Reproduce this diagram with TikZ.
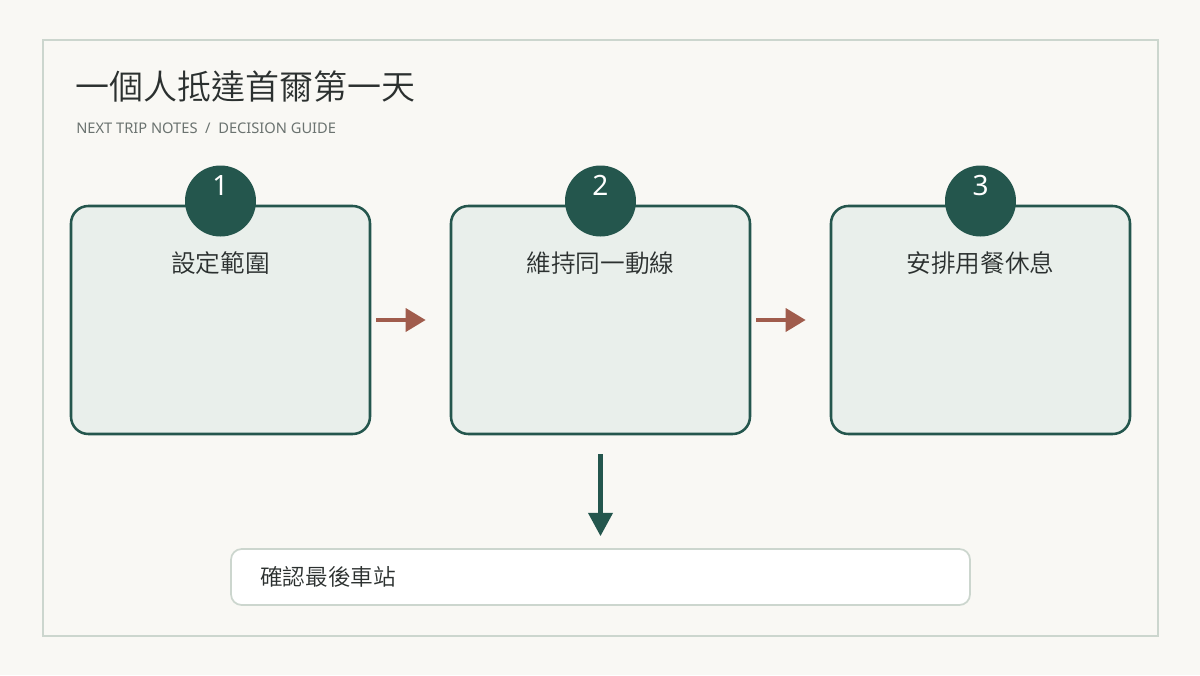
\documentclass[tikz,border=0pt]{standalone}
\usepackage{fontspec}
\setmainfont{Noto Sans}
\newfontfamily\cjk{Noto Sans CJK TC DemiLight}
\usetikzlibrary{arrows.meta}
\definecolor{bgc}{HTML}{F9F8F4}
\definecolor{framec}{HTML}{CCD6CE}
\definecolor{boxfill}{HTML}{E9EFEB}
\definecolor{darkg}{HTML}{24564D}
\definecolor{redc}{HTML}{A05C4C}
\definecolor{titlec}{HTML}{2B302F}
\definecolor{subc}{HTML}{6B7370}
\tikzset{
  stepbox/.style={draw=darkg, line width=1.9pt, fill=boxfill, rounded corners=13pt,
    minimum width=224.25pt, minimum height=171pt, inner sep=0pt},
  numcirc/.style={circle, fill=darkg, minimum size=53.25pt, inner sep=0pt},
  numtext/.style={text=white, font=\fontsize{21}{21}\selectfont, inner sep=0pt, anchor=base},
  boxlabel/.style={text=titlec, font=\cjk\fontsize{18.5}{18.5}\selectfont, inner sep=0pt},
  redarrow/.style={draw=redc, line width=3.4pt, -{Triangle[length=15pt,width=17pt]},
    shorten <=3.75pt, shorten >=18pt},
  downarrow/.style={draw=darkg, line width=3.2pt, -{Triangle[length=17.5pt,width=18pt]},
    shorten <=14.25pt, shorten >=9pt},
  notebox/.style={draw=framec, line width=1.3pt, fill=white, rounded corners=8pt,
    minimum width=554.25pt, minimum height=42pt, inner sep=0pt}
}
\begin{document}
\begin{tikzpicture}[x=0.75pt,y=-0.75pt]
\useasboundingbox (0,0) rectangle (1200,675);
\fill[bgc] (0,0) rectangle (1200,675);
\draw[framec, line width=2.2pt] (43,40) rectangle (1158,636);

\node[anchor=west, inner sep=0pt, text=titlec, font=\cjk\fontsize{25.5}{25.5}\selectfont] (title) at (75,86) {一個人抵達首爾第一天};
\node[anchor=base west, inner sep=0pt, text=subc, font=\fontsize{11}{11}\selectfont] (sub) at (76,133) {NEXT TRIP NOTES\ \ /\ \ DECISION GUIDE};

\node[stepbox] (b1) at (220.5,320) {};
\node[stepbox] (b2) at (600.5,320) {};
\node[stepbox] (b3) at (980.5,320) {};

\node[numcirc] (c1) at (220.5,201) {};
\node[numcirc] (c2) at (600.5,201) {};
\node[numcirc] (c3) at (980.5,201) {};
\node[numtext] (n1) at (220.5,195) {1};
\node[numtext] (n2) at (600.5,195) {2};
\node[numtext] (n3) at (980.5,195) {3};

\node[boxlabel] (t1) at (220.5,263.5) {設定範圍};
\node[boxlabel] (t2) at (600.5,263.5) {維持同一動線};
\node[boxlabel] (t3) at (980.5,263.5) {安排用餐休息};

\node[notebox] (nb) at (600.5,577) {};
\node[anchor=west, inner sep=0pt, text=titlec, font=\cjk\fontsize{17}{17}\selectfont] (nt) at (260,576.5) {確認最後車站};

\draw[redarrow] (b1.east) -- (b2.west);
\draw[redarrow] (b2.east) -- (b3.west);
\draw[downarrow] (b2.south) -- (nb.north);
\end{tikzpicture}
\end{document}
